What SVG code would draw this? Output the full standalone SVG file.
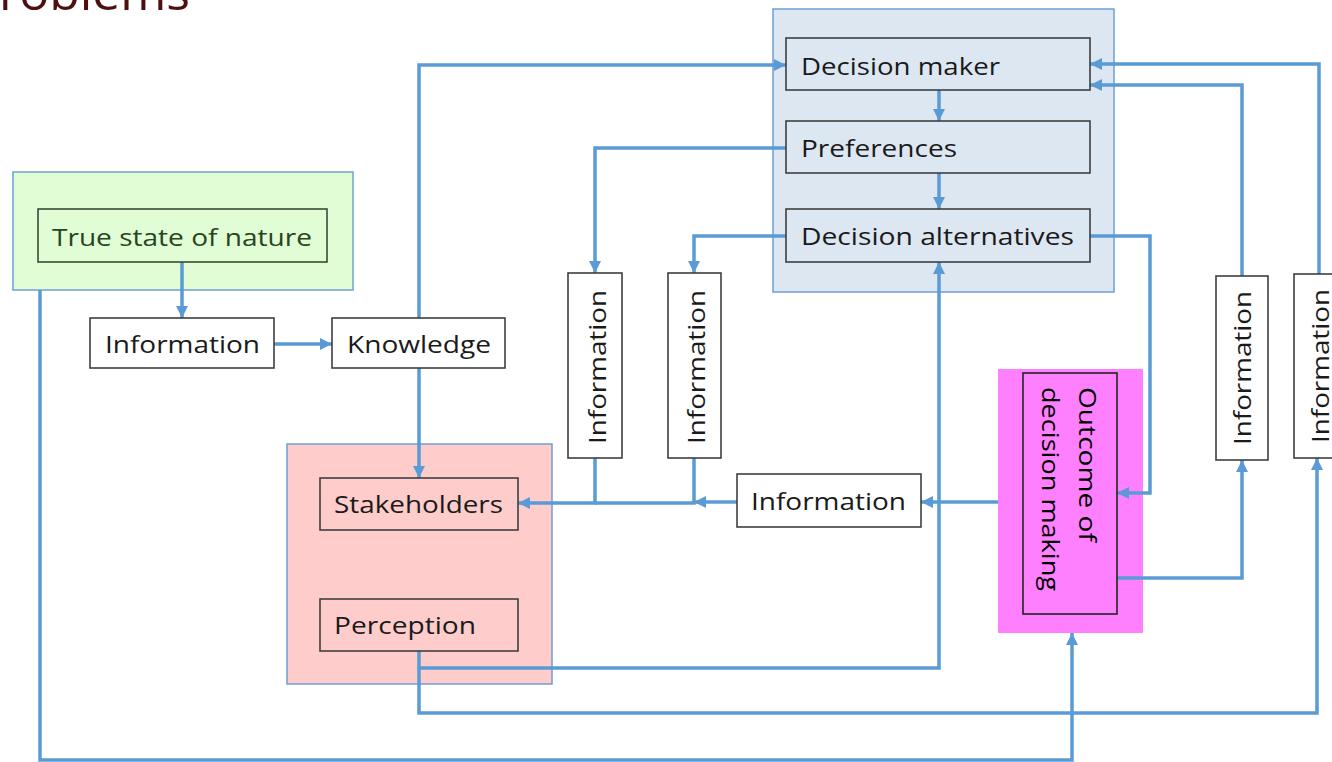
<svg xmlns="http://www.w3.org/2000/svg" width="1332" height="762" viewBox="0 0 1332 762">
  <defs>
    <marker id="arrow" markerUnits="userSpaceOnUse" markerWidth="13" markerHeight="13" refX="12" refY="6" orient="auto">
      <path d="M0,0 L12,6 L0,12 z" fill="#5b9bd5"/>
    </marker>
    <style>
      .group-box { stroke: #6f9ed4; stroke-width: 1.5; }
      .box { stroke: #3f3f3f; stroke-width: 1.6; fill: #ffffff; }
      .lbl { font-family: "Open Sans", "Liberation Sans", sans-serif; font-size: 24px; fill: #1a1a1a; }
      .wire { fill: none; stroke: #5b9bd5; stroke-width: 3.5; stroke-linejoin: miter; }
      .wire-end { fill: none; stroke: #5b9bd5; stroke-width: 3.5; marker-end: url(#arrow); }
    </style>
  </defs>

  <rect width="1332" height="762" fill="#ffffff"/>

  <!-- heading, partly outside the canvas -->
  <text x="-1" y="10" font-family="Open Sans, Liberation Sans, sans-serif" font-size="48" fill="#4e0f12" textLength="191" lengthAdjust="spacingAndGlyphs">roblems</text>

  <!-- grouping panels -->
  <g id="panel-nature">
    <rect class="group-box" x="13" y="172" width="340" height="118" fill="#e0fdd6"/>
  </g>
  <g id="panel-decision">
    <rect class="group-box" x="773" y="9" width="341" height="283" fill="#dde7f2"/>
  </g>
  <g id="panel-stakeholders">
    <rect class="group-box" x="287" y="444" width="265" height="240" fill="#ffcccc"/>
  </g>
  <g id="panel-outcome">
    <rect x="998" y="369" width="145" height="264" fill="#ff80ff"/>
  </g>

  <!-- connectors -->
  <g id="connectors">
    <path class="wire-end" d="M182,262 V318"/>
    <path class="wire-end" d="M274,344 H332"/>
    <path class="wire-end" d="M419,318 V65 H786"/>
    <path class="wire-end" d="M419,368 V478"/>
    <path class="wire-end" d="M939,90 V121"/>
    <path class="wire-end" d="M939,173 V209"/>
    <path class="wire-end" d="M786,148 H595 V273"/>
    <path class="wire-end" d="M786,236 H694 V273"/>
    <path class="wire-end" d="M595,458 V503 H518"/>
    <path class="wire" d="M694,458 V503 H595"/>
    <path class="wire-end" d="M737,502 H694"/>
    <path class="wire-end" d="M998,502 H921"/>
    <path class="wire-end" d="M1090,236 H1150 V493 H1117"/>
    <path class="wire-end" d="M1117,578 H1242 V460"/>
    <path class="wire-end" d="M1242,276 V85 H1090"/>
    <path class="wire-end" d="M1319,274 V64 H1090"/>
    <path class="wire-end" d="M419,651 V668 H939 V262"/>
    <path class="wire-end" d="M419,668 V713 H1317 V458"/>
    <path class="wire-end" d="M40,290 V760 H1072 V633"/>
  </g>

  <!-- nodes -->
  <g id="node-true-state">
    <rect class="box" x="38" y="209" width="289" height="53" style="fill:#e0fdd6;stroke:#3b4a36"/>
    <text class="lbl" x="52" y="246" textLength="260" lengthAdjust="spacingAndGlyphs" style="fill:#2a4322">True state of nature</text>
  </g>
  <g id="node-information-1">
    <rect class="box" x="90" y="318" width="184" height="50"/>
    <text class="lbl" x="105" y="353" textLength="155" lengthAdjust="spacingAndGlyphs">Information</text>
  </g>
  <g id="node-knowledge">
    <rect class="box" x="332" y="318" width="173" height="50"/>
    <text class="lbl" x="347" y="353" textLength="144" lengthAdjust="spacingAndGlyphs">Knowledge</text>
  </g>
  <g id="node-decision-maker">
    <rect class="box" x="786" y="38" width="304" height="52" style="fill:#dde7f2"/>
    <text class="lbl" x="801" y="75" textLength="199" lengthAdjust="spacingAndGlyphs">Decision maker</text>
  </g>
  <g id="node-preferences">
    <rect class="box" x="786" y="121" width="304" height="52" style="fill:#dde7f2"/>
    <text class="lbl" x="801" y="157" textLength="156" lengthAdjust="spacingAndGlyphs">Preferences</text>
  </g>
  <g id="node-decision-alternatives">
    <rect class="box" x="786" y="209" width="304" height="53" style="fill:#dde7f2"/>
    <text class="lbl" x="801" y="245" textLength="273" lengthAdjust="spacingAndGlyphs">Decision alternatives</text>
  </g>
  <g id="node-information-v1">
    <rect class="box" x="568" y="273" width="54" height="185"/>
    <text class="lbl" transform="translate(606,444) rotate(-90)" x="0" y="0" textLength="154" lengthAdjust="spacingAndGlyphs">Information</text>
  </g>
  <g id="node-information-v2">
    <rect class="box" x="668" y="273" width="53" height="185"/>
    <text class="lbl" transform="translate(705,444) rotate(-90)" x="0" y="0" textLength="154" lengthAdjust="spacingAndGlyphs">Information</text>
  </g>
  <g id="node-information-h">
    <rect class="box" x="737" y="474" width="184" height="53"/>
    <text class="lbl" x="751" y="510" textLength="155" lengthAdjust="spacingAndGlyphs">Information</text>
  </g>
  <g id="node-stakeholders">
    <rect class="box" x="320" y="478" width="198" height="52" style="fill:#ffcccc"/>
    <text class="lbl" x="334" y="513" textLength="169" lengthAdjust="spacingAndGlyphs">Stakeholders</text>
  </g>
  <g id="node-perception">
    <rect class="box" x="320" y="599" width="198" height="52" style="fill:#ffcccc"/>
    <text class="lbl" x="334" y="634" textLength="142" lengthAdjust="spacingAndGlyphs">Perception</text>
  </g>
  <g id="node-outcome">
    <rect class="box" x="1023" y="373" width="94" height="241" style="fill:#ff80ff;stroke:#222222"/>
    <text class="lbl" transform="translate(1079,387) rotate(90)" x="0" y="0" textLength="155" lengthAdjust="spacingAndGlyphs" style="fill:#000000">Outcome of</text>
    <text class="lbl" transform="translate(1042,387) rotate(90)" x="0" y="0" textLength="204" lengthAdjust="spacingAndGlyphs" style="fill:#000000">decision making</text>
  </g>
  <g id="node-information-r1">
    <rect class="box" x="1216" y="276" width="52" height="184"/>
    <text class="lbl" transform="translate(1251,445) rotate(-90)" x="0" y="0" textLength="154" lengthAdjust="spacingAndGlyphs">Information</text>
  </g>
  <g id="node-information-r2">
    <rect class="box" x="1294" y="274" width="52" height="184"/>
    <text class="lbl" transform="translate(1329,443) rotate(-90)" x="0" y="0" textLength="154" lengthAdjust="spacingAndGlyphs">Information</text>
  </g>
</svg>
